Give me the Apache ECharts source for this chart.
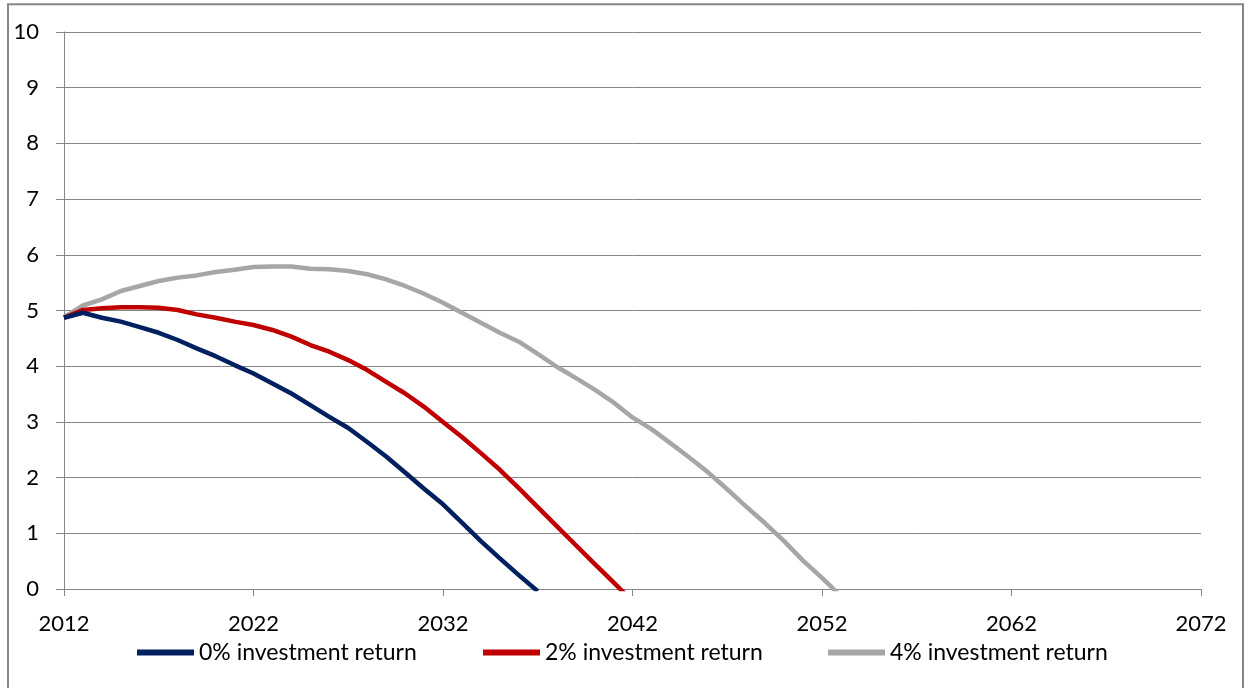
<!DOCTYPE html>
<html>
<head>
<meta charset="utf-8">
<script src="https://cdn.jsdelivr.net/npm/echarts@6/dist/echarts.min.js"></script>
<style>
  html, body { margin: 0; padding: 0; background: #fff; }
  #chart { width: 1250px; height: 688px; }
</style>
</head>
<body>
<div id="chart"></div>
<script>
// Years on the horizontal axis (2012 – 2072)
const years = [];
for (let y = 2012; y <= 2072; y++) years.push(String(y));

// Projected balance for each investment-return scenario, one value per year from 2012
const return0 = [4.87, 4.96, 4.87, 4.80, 4.70, 4.60, 4.47, 4.32, 4.18, 4.02,
                 3.87, 3.69, 3.51, 3.30, 3.09, 2.89, 2.64, 2.38, 2.09, 1.80,
                 1.52, 1.19, 0.86, 0.55, 0.25, -0.04];
const return2 = [4.87, 5.01, 5.04, 5.06, 5.06, 5.05, 5.01, 4.93, 4.87, 4.80,
                 4.74, 4.65, 4.53, 4.38, 4.26, 4.11, 3.93, 3.72, 3.51, 3.27,
                 3.00, 2.73, 2.44, 2.14, 1.81, 1.47, 1.13, 0.79, 0.45, 0.12,
                 -0.22];
const return4 = [4.88, 5.09, 5.20, 5.35, 5.44, 5.53, 5.59, 5.63, 5.69, 5.73,
                 5.78, 5.79, 5.79, 5.75, 5.74, 5.71, 5.65, 5.56, 5.44, 5.30,
                 5.14, 4.96, 4.78, 4.60, 4.44, 4.22, 3.99, 3.79, 3.58, 3.35,
                 3.08, 2.87, 2.62, 2.36, 2.09, 1.79, 1.48, 1.18, 0.86, 0.51,
                 0.20, -0.13];

const seriesNames = ['0% investment return', '2% investment return', '4% investment return'];
const seriesColors = ['#002060', '#C00000', '#A6A6A6'];
const seriesData = [return0, return2, return4];

const axisGray = '#868686';
const font = 'Lato, Calibri, "Liberation Sans", sans-serif';

// left edge of each legend entry along the bottom row
const legendLefts = [137, 483, 828];

const chart = echarts.init(document.getElementById('chart'), null, { renderer: 'canvas' });

chart.setOption({
  animation: false,
  backgroundColor: '#ffffff',
  graphic: [{
    // outer frame of the chart area (open at the bottom edge of the page)
    type: 'rect',
    shape: { x: 8, y: 4.3, width: 1235, height: 700 },
    style: { fill: 'none', stroke: axisGray, lineWidth: 2 },
    silent: true,
    z: -1
  }],
  grid: { left: 64, right: 49, top: 32, bottom: 99, containLabel: false },
  legend: seriesNames.map((name, i) => ({
    top: 641,
    left: legendLefts[i],
    itemWidth: 57,
    itemHeight: 12,
    itemGap: 0,
    padding: 0,
    icon: 'path://M0,3 L57,3 L57,9 L0,9 Z',
    textStyle: { fontFamily: font, fontSize: 23, color: '#000' },
    data: [name]
  })),
  xAxis: {
    type: 'category',
    data: years,
    boundaryGap: false,
    axisLine: { show: true, lineStyle: { color: axisGray, width: 1 } },
    axisTick: { show: true, interval: 9, length: 7, lineStyle: { color: axisGray } },
    axisLabel: { interval: 9, margin: 24, fontFamily: font, fontSize: 22, color: '#000' },
    splitLine: { show: false }
  },
  yAxis: {
    type: 'value',
    min: 0,
    max: 10,
    interval: 1,
    axisLine: { show: true, lineStyle: { color: axisGray, width: 1 } },
    axisTick: { show: true, length: 8, lineStyle: { color: axisGray } },
    axisLabel: { margin: 25, fontFamily: font, fontSize: 22, color: '#000' },
    splitLine: { show: true, lineStyle: { color: axisGray, width: 1 } }
  },
  series: seriesNames.map((name, i) => ({
    name: name,
    type: 'line',
    data: seriesData[i],
    showSymbol: false,
    symbol: 'none',
    clip: true,
    color: seriesColors[i],
    lineStyle: { color: seriesColors[i], width: 4.5, cap: 'butt', join: 'round' },
    z: 3 - i
  }))
});
</script>
</body>
</html>
